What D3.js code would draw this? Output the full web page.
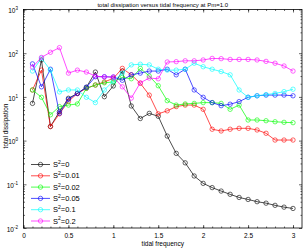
<!DOCTYPE html>
<html>
<head>
<meta charset="utf-8">
<script src="https://cdn.jsdelivr.net/npm/d3@7"></script>
<style>
body { margin: 0; background: #fff; }
svg { display: block; font-family: "Liberation Sans", Arial, sans-serif; }
</style>
</head>
<body>
<script>
// tidal frequency samples
var freq = [0.1, 0.2, 0.3, 0.4, 0.5, 0.6, 0.7, 0.8, 0.9, 1.0, 1.1, 1.2, 1.3, 1.4, 1.5,
            1.6, 1.7, 1.8, 1.9, 2.0, 2.1, 2.2, 2.3, 2.4, 2.5, 2.6, 2.7, 2.8, 2.9, 3.0];

// total dissipation for each S^2
var s0   = [7.1, 70, 2.1, 4.6, 9.3, 12, 16.6, 37, 10.1, 17.8, 39, 6.2, 3.2, 4.2, 3.6,
            1.27, 0.51, 0.31, 0.155, 0.105, 0.084, 0.070, 0.059, 0.050, 0.045, 0.040, 0.037, 0.033, 0.030, 0.028];
var s001 = [14.4, 41, 2.1, 4.1, 7.9, 12, 15.7, 18.7, 22, 26.6, 45, 32, 20.5, 11, 4.1,
            4.8, 6.0, 6.5, 6.5, 5.2, 1.82, 1.66, 1.82, 1.91, 1.91, 1.75, 1.47, 1.03, 1.03, 1.03];
var s002 = [14.4, 9.8, 3.9, 6.0, 6.5, 6.9, 15.7, 18.7, 21, 22, 28, 26, 45, 30, 18,
            8.2, 6.5, 6.9, 7.1, 7.4, 7.4, 7.1, 5.2, 6.5, 2.96, 2.96, 2.85, 2.7, 2.62, 2.57];
var s005 = [57, 17, 43, 4.2, 8.8, 12, 16.6, 29, 29, 28.5, 24, 32, 35, 39, 39,
            43, 32, 43, 14.4, 9.8, 7.4, 6.3, 6.8, 7.8, 9.8, 10.6, 11, 11, 11, 10.6];
var s01  = [39, 77, 41, 13, 14.4, 14.4, 9.8, 7.4, 14.4, 23, 35, 54, 56, 54, 43,
            41, 41, 43, 59, 49, 43, 38, 32, 14.4, 9.8, 10.6, 11.3, 12, 13.2, 15];
var s02  = [48, 80, 105, 134, 35, 41, 37, 30, 28.5, 28.5, 17, 9.4, 21, 27, 26,
            63, 64, 67, 67, 70, 76, 75, 72, 72, 72, 70, 65, 59, 51, 39];

var series = [s0, s001, s002, s005, s01, s02];
var legendVals = ['0', '0.01', '0.02', '0.05', '0.1', '0.2'];
var colors = ['#000000', '#ff0000', '#00ff00', '#0000ff', '#00ffff', '#ff00ff'];

var xTicks = [0, 0.5, 1, 1.5, 2, 2.5, 3];
var yTicks = [1e-2, 1e-1, 1, 10, 100, 1000];
var yExp = ['-2', '-1', '0', '1', '2', '3'];

var W = 303, H = 248;
var L = 23.5, R = 302, T = 9.5, B = 228;

var svg = d3.select('body').append('svg')
  .attr('width', W)
  .attr('height', H);

var x = d3.scaleLinear().domain([0, 3.1]).range([L, R]);
var y = d3.scaleLog().domain([0.01, 1000]).range([B, T]);

var xMinor = d3.range(0, 31).map(function(i) { return i / 10; });
var yMinor = [];
yTicks.slice(0, 5).forEach(function(d) {
  for (var k = 2; k <= 9; k++) yMinor.push(d * k);
});

function clean(g) {
  g.select('.domain').remove();
  g.selectAll('line').attr('stroke', '#000').attr('stroke-width', 0.6);
}

// bottom
svg.append('g').attr('transform', 'translate(0,' + B + ')')
  .call(d3.axisBottom(x).tickValues(xMinor).tickSize(-1.5).tickFormat(''))
  .call(clean);
var xa = svg.append('g').attr('transform', 'translate(0,' + B + ')')
  .call(d3.axisBottom(x).tickValues(xTicks).tickSize(-3).tickPadding(5).tickFormat(d3.format('')))
  .call(clean);
xa.selectAll('text').attr('font-size', 6.5).attr('fill', '#000').attr('font-family', null);

// top
svg.append('g').attr('transform', 'translate(0,' + T + ')')
  .call(d3.axisTop(x).tickValues(xMinor).tickSize(-1.5).tickFormat(''))
  .call(clean);
svg.append('g').attr('transform', 'translate(0,' + T + ')')
  .call(d3.axisTop(x).tickValues(xTicks).tickSize(-3).tickFormat(''))
  .call(clean);

// left
svg.append('g').attr('transform', 'translate(' + L + ',0)')
  .call(d3.axisLeft(y).tickValues(yMinor).tickSize(-1.5).tickFormat(''))
  .call(clean);
var ya = svg.append('g').attr('transform', 'translate(' + L + ',0)')
  .call(d3.axisLeft(y).tickValues(yTicks).tickSize(-3).tickPadding(4).tickFormat(''))
  .call(clean);
ya.selectAll('text').each(function(d, i) {
  var t = d3.select(this).attr('font-size', 6.5).attr('fill', '#000')
    .attr('font-family', null).attr('dy', '0.5em').attr('dx', '-1.5');
  t.append('tspan').text('10');
  t.append('tspan').attr('font-size', 4.5).attr('dy', -3).text(yExp[i]);
});

// right
svg.append('g').attr('transform', 'translate(' + R + ',0)')
  .call(d3.axisRight(y).tickValues(yMinor).tickSize(-1.5).tickFormat(''))
  .call(clean);
svg.append('g').attr('transform', 'translate(' + R + ',0)')
  .call(d3.axisRight(y).tickValues(yTicks).tickSize(-3).tickFormat(''))
  .call(clean);

// frame
svg.append('rect')
  .attr('x', L).attr('y', T)
  .attr('width', R - L).attr('height', B - T)
  .attr('fill', 'none').attr('stroke', '#000').attr('stroke-width', 0.8);

// series
var line = d3.line()
  .x(function(d, i) { return x(freq[i]); })
  .y(function(d) { return y(d); });

series.forEach(function(s, j) {
  svg.append('path')
    .datum(s)
    .attr('d', line)
    .attr('fill', 'none')
    .attr('stroke', colors[j])
    .attr('stroke-width', 0.7);
  svg.selectAll('.m' + j)
    .data(s)
    .enter()
      .append('circle')
      .attr('cx', function(d, i) { return x(freq[i]); })
      .attr('cy', function(d) { return y(d); })
      .attr('r', 2.2)
      .attr('fill', 'none')
      .attr('stroke', colors[j])
      .attr('stroke-width', 0.6);
});

// legend
var leg = svg.append('g');
legendVals.forEach(function(v, j) {
  var ly = 164.5 + j * 11.3;
  leg.append('line')
    .attr('x1', 31).attr('x2', 50).attr('y1', ly).attr('y2', ly)
    .attr('stroke', colors[j]).attr('stroke-width', 0.7);
  leg.append('circle')
    .attr('cx', 40.5).attr('cy', ly).attr('r', 2.2)
    .attr('fill', 'none').attr('stroke', colors[j]).attr('stroke-width', 0.6);
  var t = leg.append('text')
    .attr('x', 53).attr('y', ly + 2.6)
    .attr('font-size', 7.5).attr('fill', '#000');
  t.append('tspan').text('S');
  t.append('tspan').attr('font-size', 5).attr('dy', -3.2).text('2');
  t.append('tspan').attr('dy', 3.2).text('=' + v);
});

// title and axis labels
svg.append('text')
  .attr('x', (L + R) / 2).attr('y', 6.5)
  .attr('text-anchor', 'middle').attr('font-size', 6)
  .text('total dissipation versus tidal frequency at Pm=1.0');

svg.append('text')
  .attr('x', (L + R) / 2).attr('y', 246)
  .attr('text-anchor', 'middle').attr('font-size', 6.5)
  .text('tidal frequency');

svg.append('text')
  .attr('transform', 'translate(8,126) rotate(-90)')
  .attr('text-anchor', 'middle').attr('font-size', 6.5)
  .text('total dissipation');
</script>
</body>
</html>
